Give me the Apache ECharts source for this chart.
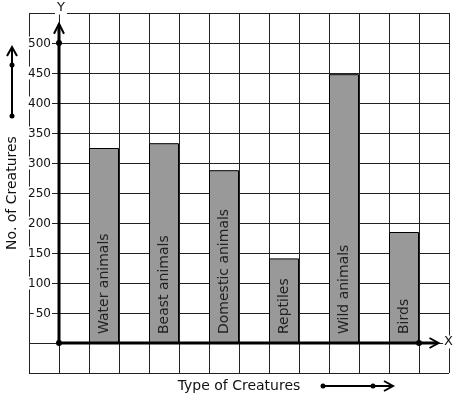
<!DOCTYPE html>
<html><head><meta charset="utf-8">
<script src="https://cdn.jsdelivr.net/npm/echarts@6/dist/echarts.min.js"></script>
<style>html,body{margin:0;padding:0;background:#fff}#c{width:457px;height:399px}</style>
</head><body><div id="c"></div>
<script>
const categories = ['Water animals', 'Beast animals', 'Domestic animals', 'Reptiles', 'Wild animals', 'Birds'];
const values = [325, 333, 288, 141, 448, 185];
const yTickLabels = [50, 100, 150, 200, 250, 300, 350, 400, 450, 500];
const xAxisTitle = 'Type of Creatures';
const yAxisTitle = 'No. of Creatures';

const FONT = 'DejaVu Sans';
const chart = echarts.init(document.getElementById('c'), null, {renderer: 'canvas'});

const barData = values.map((v, i) => ({value: [1.5 + 2 * i, v], name: categories[i]}));

chart.setOption({
  animation: false,
  backgroundColor: '#fff',
  grid: {left: 29, top: 13, width: 420, height: 360, containLabel: false, outerBoundsMode: 'none'},
  xAxis: {
    type: 'value', min: -1, max: 13, interval: 1, position: 'bottom', offset: -30,
    axisLine: {show: false, onZero: false},
    axisTick: {show: false},
    axisLabel: {show: false},
    splitLine: {show: true, showMinLine: true, showMaxLine: true, lineStyle: {color: '#222', width: 1}},
    name: xAxisTitle, nameLocation: 'middle', nameGap: 36, nameMoveOverlap: false,
    nameTextStyle: {fontFamily: FONT, fontSize: 14, color: '#111'}
  },
  yAxis: {
    type: 'value', min: -50, max: 550, interval: 50, position: 'left', offset: -30,
    axisLine: {show: false, onZero: false},
    axisTick: {show: false},
    axisLabel: {
      show: true, margin: 7, showMinLabel: false, showMaxLabel: false,
      fontFamily: FONT, fontSize: 12, color: '#111',
      formatter: v => (yTickLabels.indexOf(v) >= 0 ? '{b|' + v + '}' : ''),
      rich: {b: {fontFamily: FONT, fontSize: 12, color: '#111', backgroundColor: '#fff', padding: [1, 1, 0, 2]}}
    },
    splitLine: {show: true, showMinLine: true, showMaxLine: true, lineStyle: {color: '#222', width: 1}},
    name: yAxisTitle, nameLocation: 'middle', nameGap: 47, nameRotate: 90, nameMoveOverlap: false,
    nameTextStyle: {fontFamily: FONT, fontSize: 14, color: '#111', verticalAlign: 'middle'}
  },
  series: [{
    type: 'bar',
    barWidth: 30,
    data: barData,
    itemStyle: {color: '#999999', borderColor: '#000', borderWidth: 1},
    label: {
      show: true, position: 'insideBottom', rotate: 90, align: 'left', verticalAlign: 'middle',
      distance: 9, fontFamily: FONT, fontSize: 14, color: '#222',
      formatter: p => p.name
    },
    z: 3
  }]
});

function P(x, y) { return chart.convertToPixel({gridIndex: 0}, [x, y]); }
const o = P(0, 0), yTop = P(0, 532), y500 = P(0, 500), xEnd = P(12.65, 0), x12 = P(12, 0);
const els = [];
const blk = '#000';
els.push({type: 'line', shape: {x1: o[0], y1: o[1], x2: yTop[0], y2: yTop[1] + 1}, style: {stroke: blk, lineWidth: 3}, z: 10});
els.push({type: 'polyline', shape: {points: [[yTop[0] - 5, yTop[1] + 10], [yTop[0], yTop[1]], [yTop[0] + 5, yTop[1] + 10]]}, style: {stroke: blk, lineWidth: 2, fill: null}, z: 10});
els.push({type: 'line', shape: {x1: o[0], y1: o[1], x2: xEnd[0] - 1, y2: xEnd[1]}, style: {stroke: blk, lineWidth: 3}, z: 10});
els.push({type: 'polyline', shape: {points: [[xEnd[0] - 9, xEnd[1] - 5], [xEnd[0], xEnd[1]], [xEnd[0] - 9, xEnd[1] + 5]]}, style: {stroke: blk, lineWidth: 2, fill: null}, z: 10});
[o, y500, x12].forEach(p => els.push({type: 'circle', shape: {cx: p[0], cy: p[1], r: 3}, style: {fill: blk}, z: 11}));
els.push({type: 'text', x: yTop[0] + 2, y: 8, style: {text: 'Y', font: '13px "DejaVu Sans"', fill: '#111', align: 'center', verticalAlign: 'middle', backgroundColor: '#fff', padding: [0, 2]}, z: 12});
els.push({type: 'text', x: xEnd[0] + 10, y: xEnd[1] - 1, style: {text: 'X', font: '13px "DejaVu Sans"', fill: '#111', align: 'center', verticalAlign: 'middle', backgroundColor: '#fff', padding: [0, 1]}, z: 12});
els.push({type: 'line', shape: {x1: 12, y1: 116, x2: 12, y2: 48}, style: {stroke: blk, lineWidth: 2}, z: 10});
els.push({type: 'polyline', shape: {points: [[7, 56], [12, 47], [17, 56]]}, style: {stroke: blk, lineWidth: 2, fill: null}, z: 10});
[[12, 116], [12, 65]].forEach(p => els.push({type: 'circle', shape: {cx: p[0], cy: p[1], r: 2.5}, style: {fill: blk}, z: 11}));
els.push({type: 'line', shape: {x1: 323, y1: 386, x2: 392, y2: 386}, style: {stroke: blk, lineWidth: 2}, z: 10});
els.push({type: 'polyline', shape: {points: [[384, 381], [393, 386], [384, 391]]}, style: {stroke: blk, lineWidth: 2, fill: null}, z: 10});
[[323, 386], [373, 386]].forEach(p => els.push({type: 'circle', shape: {cx: p[0], cy: p[1], r: 2.5}, style: {fill: blk}, z: 11}));
chart.setOption({graphic: {elements: els}});
</script>
</body></html>
